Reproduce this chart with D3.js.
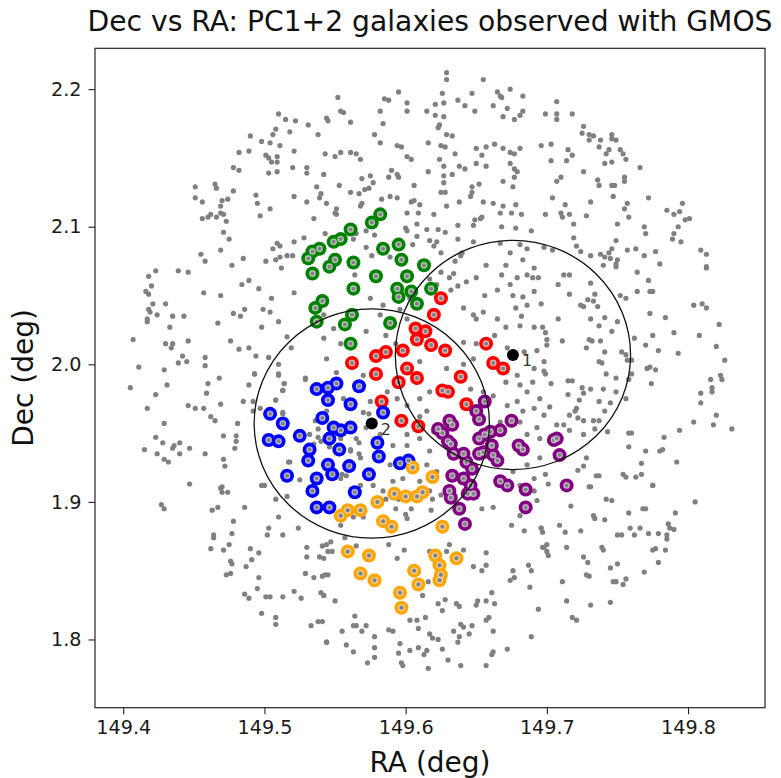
<!DOCTYPE html>
<html><head><meta charset="utf-8">
<script src="https://cdn.jsdelivr.net/npm/d3@7"></script>
<style>body{margin:0;background:#fff}svg{display:block}text{font-family:"DejaVu Sans",sans-serif}</style>
</head><body><svg id="c" width="781" height="778"></svg>
<script>
// ---------- data (RA, Dec in degrees) ----------
const galaxies = [
[149.510,2.182],[149.515,2.178],[149.522,2.177],[149.531,2.174],[149.490,2.166],[149.506,2.167],[149.508,2.171],[149.518,2.169],[149.538,2.167],[149.498,2.162],[149.504,2.161],[149.511,2.159],[149.482,2.154],[149.489,2.155],[149.521,2.155],[149.501,2.152],[149.503,2.150],[149.509,2.151],[149.505,2.147],[149.509,2.147],[149.478,2.143],[149.482,2.141],[149.520,2.143],[149.530,2.143],[149.530,2.139],[149.503,2.139],[149.509,2.140],[149.451,2.129],[149.465,2.131],[149.466,2.128],[149.537,2.129],[149.540,2.124],[149.539,2.121],[149.478,2.126],[149.451,2.121],[149.456,2.118],[149.470,2.119],[149.474,2.120],[149.494,2.123],[149.469,2.115],[149.495,2.117],[149.497,2.108],[149.504,2.113],[149.521,2.122],[149.530,2.118],[149.456,2.106],[149.460,2.107],[149.462,2.109],[149.466,2.107],[149.469,2.110],[149.471,2.109],[149.473,2.104],[149.535,2.106],[149.471,2.096],[149.475,2.091],[149.528,2.092],[149.521,2.089],[149.509,2.088],[149.506,2.084],[149.511,2.086],[149.508,2.076],[149.511,2.078],[149.516,2.079],[149.520,2.079],[149.455,2.080],[149.458,2.075],[149.469,2.083],[149.485,2.077],[149.501,2.075],[149.477,2.072],
[149.629,2.212],[149.629,2.207],[149.655,2.207],[149.595,2.198],[149.626,2.197],[149.647,2.197],[149.665,2.198],[149.667,2.195],[149.668,2.194],[149.674,2.200],[149.683,2.195],[149.552,2.194],[149.585,2.193],[149.588,2.192],[149.601,2.190],[149.601,2.184],[149.621,2.189],[149.627,2.190],[149.637,2.192],[149.642,2.188],[149.662,2.188],[149.672,2.186],[149.683,2.184],[149.681,2.181],[149.544,2.179],[149.545,2.177],[149.554,2.184],[149.556,2.183],[149.561,2.176],[149.582,2.184],[149.584,2.175],[149.615,2.184],[149.621,2.181],[149.627,2.180],[149.649,2.184],[149.669,2.180],[149.677,2.178],[149.624,2.174],[149.623,2.172],[149.629,2.167],[149.633,2.166],[149.578,2.167],[149.582,2.161],[149.616,2.161],[149.625,2.159],[149.628,2.158],[149.635,2.153],[149.650,2.157],[149.657,2.158],[149.654,2.152],[149.663,2.160],[149.669,2.157],[149.674,2.154],[149.677,2.153],[149.681,2.157],[149.594,2.159],[149.597,2.158],[149.543,2.153],[149.550,2.151],[149.554,2.154],[149.561,2.154],[149.565,2.153],[149.568,2.149],[149.601,2.151],[149.604,2.149],[149.624,2.149],[149.627,2.144],[149.638,2.144],[149.642,2.142],[149.650,2.146],[149.657,2.144],[149.674,2.146],[149.677,2.142],[149.679,2.140],[149.542,2.138],[149.569,2.135],[149.575,2.137],[149.588,2.136],[149.594,2.138],[149.595,2.136],[149.590,2.141],[149.616,2.140],[149.627,2.137],[149.633,2.138],[149.669,2.133],[149.677,2.136],[149.676,2.129],[149.553,2.130],[149.561,2.125],[149.567,2.124],[149.571,2.127],[149.574,2.128],[149.577,2.132],[149.606,2.130],[149.627,2.132],[149.625,2.125],[149.628,2.125],[149.647,2.129],[149.647,2.125],[149.646,2.122],[149.652,2.131],[149.583,2.120],[149.589,2.122],[149.594,2.121],[149.604,2.118],[149.606,2.119],[149.610,2.116],[149.544,2.117],[149.551,2.113],[149.550,2.110],[149.569,2.117],[149.568,2.115],[149.551,2.109],[149.601,2.110],[149.609,2.110],[149.620,2.109],[149.629,2.115],[149.638,2.118],[149.655,2.118],[149.662,2.117],[149.669,2.115],[149.667,2.110],[149.678,2.116],[149.682,2.109],[149.649,2.105],[149.653,2.106],[149.654,2.107],[149.648,2.101],[149.675,2.110],[149.543,2.095],[149.565,2.095],[149.563,2.091],[149.572,2.097],[149.578,2.094],[149.600,2.099],[149.601,2.097],[149.608,2.102],[149.615,2.098],[149.623,2.098],[149.628,2.096],[149.637,2.101],[149.637,2.091],[149.668,2.100],[149.678,2.099],[149.689,2.097],[149.648,2.089],[149.667,2.088],[149.674,2.081],[149.681,2.087],[149.686,2.084],[149.683,2.076],[149.572,2.085],[149.576,2.079],[149.589,2.078],[149.605,2.087],[149.608,2.093],[149.617,2.090],[149.622,2.089],[149.620,2.086],[149.639,2.079],[149.635,2.075],[149.640,2.081],[149.625,2.081],[149.657,2.072],[149.671,2.072],
[149.707,2.191],[149.707,2.182],[149.707,2.178],[149.699,2.182],[149.718,2.182],[149.726,2.173],[149.725,2.168],[149.730,2.167],[149.733,2.166],[149.730,2.163],[149.738,2.163],[149.746,2.167],[149.746,2.164],[149.749,2.163],[149.737,2.158],[149.744,2.156],[149.742,2.153],[149.752,2.156],[149.754,2.153],[149.756,2.149],[149.741,2.146],[149.746,2.147],[149.696,2.159],[149.703,2.160],[149.715,2.156],[149.718,2.152],[149.703,2.148],[149.714,2.148],[149.726,2.140],[149.766,2.143],[149.707,2.133],[149.710,2.136],[149.736,2.134],[149.737,2.130],[149.746,2.130],[149.748,2.130],[149.755,2.136],[149.755,2.133],[149.747,2.122],[149.772,2.121],[149.704,2.121],[149.713,2.116],[149.731,2.118],[149.699,2.109],[149.710,2.110],[149.711,2.107],[149.716,2.109],[149.728,2.108],[149.719,2.102],[149.757,2.117],[149.755,2.113],[149.758,2.107],[149.750,2.102],[149.785,2.112],[149.790,2.109],[149.794,2.111],[149.796,2.117],[149.798,2.105],[149.801,2.106],[149.793,2.100],[149.769,2.100],[149.770,2.095],[149.790,2.095],[149.789,2.091],[149.795,2.089],[149.719,2.092],[149.749,2.090],[149.721,2.086],[149.724,2.082],[149.698,2.085],[149.704,2.083],[149.731,2.079],[149.738,2.080],[149.741,2.078],[149.744,2.081],[149.746,2.084],[149.745,2.077],[149.750,2.076],[149.749,2.073],[149.757,2.083],[149.763,2.084],[149.777,2.082],[149.769,2.079],[149.780,2.073],[149.809,2.083],[149.813,2.080],[149.813,2.071],
[149.418,2.064],[149.423,2.068],[149.439,2.068],[149.446,2.067],[149.512,2.070],[149.420,2.057],[149.416,2.053],[149.418,2.051],[149.457,2.052],[149.469,2.050],[149.484,2.058],[149.489,2.061],[149.496,2.055],[149.505,2.048],[149.521,2.052],[149.421,2.044],[149.430,2.044],[149.418,2.040],[149.419,2.038],[149.424,2.036],[149.417,2.033],[149.417,2.031],[149.435,2.035],[149.443,2.035],[149.478,2.037],[149.483,2.035],[149.486,2.040],[149.499,2.040],[149.504,2.038],[149.510,2.031],[149.498,2.027],[149.433,2.027],[149.467,2.030],[149.516,2.020],[149.407,2.018],[149.430,2.015],[149.435,2.015],[149.434,2.012],[149.446,2.017],[149.476,2.017],[149.482,2.011],[149.489,2.012],[149.519,2.012],[149.411,1.998],[149.429,1.996],[149.439,2.001],[149.442,2.006],[149.445,2.002],[149.458,2.005],[149.458,1.999],[149.494,2.006],[149.503,2.005],[149.510,2.000],[149.493,1.993],[149.510,1.993],[149.405,1.983],[149.423,1.978],[149.431,1.985],[149.460,1.986],[149.468,1.990],[149.489,1.985],[149.514,1.986],[149.513,1.981],[149.529,1.989],[149.459,1.979],[149.417,1.968],[149.446,1.970],[149.451,1.968],[149.457,1.968],[149.462,1.962],[149.465,1.959],[149.469,1.971],[149.485,1.973],[149.492,1.973],[149.492,1.966],[149.497,1.968],[149.508,1.974],[149.513,1.965],[149.429,1.957],[149.423,1.947],[149.428,1.943],[149.436,1.941],[149.435,1.939],[149.440,1.943],[149.440,1.935],[149.447,1.939],[149.415,1.938],[149.424,1.935],[149.429,1.931],[149.432,1.929],[149.458,1.935],[149.471,1.948],[149.480,1.948],[149.480,1.944],[149.479,1.939],[149.471,1.931],[149.472,1.926],[149.481,1.957],[149.447,1.913],[149.470,1.911],[149.517,1.929],[149.538,1.947],
[149.510,1.992],[149.529,1.990],[149.514,1.986],[149.513,1.981],[149.508,1.974],[149.513,1.964],[149.574,1.964],[149.536,1.959],[149.532,1.949],[149.538,1.953],[149.540,1.944],[149.535,1.942],[149.518,1.929],[149.546,1.940],[149.561,1.938],[149.567,1.943],[149.567,1.935],[149.558,1.919],[149.555,1.920],[149.525,1.916],[149.498,1.912],[149.493,1.993],
[149.564,2.065],[149.625,2.067],[149.634,2.066],[149.631,2.063],[149.643,2.060],[149.650,2.063],[149.668,2.065],[149.679,2.063],[149.686,2.065],[149.691,2.070],[149.690,2.063],[149.694,2.063],[149.617,2.062],[149.622,2.058],[149.637,2.057],[149.632,2.054],[149.656,2.050],[149.665,2.054],[149.674,2.058],[149.676,2.050],[149.683,2.049],[149.691,2.053],[149.696,2.044],[149.686,2.043],[149.641,2.041],[149.603,2.048],[149.575,2.048],[149.584,2.043],[149.596,2.040],[149.648,2.036],[149.650,2.033],[149.655,2.038],[149.678,2.041],[149.682,2.035],[149.691,2.027],[149.681,2.028],[149.665,2.033],[149.671,2.027],[149.601,2.033],[149.582,2.036],[149.572,2.024],[149.542,2.036],[149.549,2.026],[149.542,2.019],[149.554,2.015],[149.586,2.021],[149.593,2.015],[149.663,2.021],[149.672,2.012],[149.684,2.009],[149.693,2.010],[149.650,2.015],[149.641,2.016],[149.544,2.004],[149.551,1.994],[149.570,1.992],[149.610,2.002],[149.629,1.997],[149.641,2.000],[149.648,2.004],[149.667,1.999],[149.679,1.992],[149.691,1.997],[149.698,2.002],[149.671,1.987],[149.681,1.985],[149.690,1.987],[149.655,1.980],[149.662,1.977],[149.672,1.970],[149.679,1.973],[149.686,1.980],[149.695,1.975],[149.691,1.968],[149.683,1.966],[149.646,1.982],[149.617,1.980],[149.610,1.975],[149.601,1.970],[149.594,1.975],[149.587,1.980],[149.575,1.973],[149.556,1.975],[149.570,1.965],[149.572,1.954],[149.565,1.946],[149.582,1.949],[149.554,1.946],[149.544,1.966],[149.594,1.958],[149.610,1.962],[149.615,1.966],[149.601,1.949],[149.610,1.946],[149.620,1.951],[149.667,1.958],[149.681,1.958],[149.693,1.954],[149.695,1.946],[149.686,1.949],[149.591,1.941],[149.589,1.927],[149.601,1.941],[149.617,1.937],[149.615,1.927],[149.622,1.922],[149.610,1.915],[149.598,1.917],[149.591,1.915],[149.577,1.912],[149.568,1.912],[149.554,1.917],[149.561,1.937],[149.568,1.932],[149.676,1.922],[149.686,1.927],[149.691,1.917],[149.681,1.912],[149.695,1.932],
[149.712,2.065],[149.716,2.065],[149.740,2.072],[149.749,2.071],[149.764,2.067],[149.772,2.061],[149.773,2.053],[149.775,2.053],[149.813,2.070],[149.708,2.058],[149.731,2.059],[149.716,2.051],[149.734,2.051],[149.729,2.047],[149.733,2.046],[149.724,2.043],[149.726,2.042],[149.736,2.042],[149.752,2.050],[149.756,2.048],[149.764,2.053],[149.804,2.043],[149.810,2.044],[149.813,2.041],[149.708,2.033],[149.731,2.033],[149.741,2.034],[149.737,2.028],[149.750,2.031],[149.773,2.037],[149.784,2.034],[149.822,2.029],[149.697,2.027],[149.699,2.023],[149.700,2.018],[149.700,2.014],[149.711,2.017],[149.730,2.018],[149.732,2.017],[149.738,2.017],[149.746,2.024],[149.762,2.019],[149.775,2.021],[149.790,2.023],[149.808,2.021],[149.770,2.014],[149.779,2.010],[149.793,2.008],[149.820,2.013],[149.826,2.003],[149.728,2.012],[149.741,2.009],[149.753,2.009],[149.756,2.007],[149.757,2.003],[149.760,2.003],[149.737,2.002],[149.739,2.001],[149.698,1.995],[149.699,1.993],[149.742,1.993],[149.749,1.990],[149.771,1.997],[149.773,1.998],[149.777,1.996],[149.760,1.993],[149.758,1.989],[149.816,1.989],[149.823,1.992],[149.824,1.989],[149.774,1.986],[149.715,1.988],[149.718,1.988],[149.703,1.986],[149.725,1.983],[149.726,1.979],[149.731,1.982],[149.740,1.982],[149.749,1.980],[149.756,1.975],[149.715,1.978],[149.723,1.974],[149.737,1.973],[149.745,1.972],[149.741,1.966],[149.720,1.966],[149.721,1.968],[149.702,1.969],[149.698,1.963],[149.716,1.963],[149.722,1.961],[149.726,1.959],[149.733,1.959],[149.737,1.959],[149.707,1.956],[149.712,1.956],[149.716,1.952],[149.726,1.949],[149.734,1.953],[149.743,1.951],[149.758,1.950],[149.760,1.950],[149.758,1.940],[149.770,1.937],[149.780,1.937],[149.782,1.938],[149.783,1.947],[149.794,1.952],[149.804,1.958],[149.809,1.979],[149.809,1.972],[149.817,1.983],[149.817,1.980],[149.820,1.963],[149.818,1.956],[149.831,1.953],[149.792,1.929],[149.767,1.928],[149.735,1.919],[149.737,1.919],[149.754,1.920],[149.756,1.918],[149.763,1.918],[149.767,1.920],[149.775,1.912],[149.731,1.911],[149.722,1.923],[149.726,1.926],[149.728,1.932],[149.699,1.920],[149.701,1.913],
[149.427,1.898],[149.429,1.895],[149.469,1.910],[149.470,1.907],[149.474,1.907],[149.463,1.894],[149.467,1.896],[149.486,1.896],[149.478,1.886],[149.464,1.876],[149.464,1.874],[149.477,1.877],[149.475,1.869],[149.462,1.866],[149.471,1.865],[149.490,1.866],[149.496,1.863],[149.503,1.881],[149.502,1.876],[149.510,1.889],[149.508,1.902],[149.516,1.904],[149.513,1.876],[149.524,1.881],[149.476,1.857],[149.477,1.855],[149.491,1.858],[149.487,1.853],[149.473,1.847],[149.476,1.848],[149.496,1.845],[149.495,1.837],[149.486,1.833],[149.489,1.830],[149.501,1.831],[149.504,1.831],[149.513,1.831],[149.521,1.835],[149.526,1.830],[149.530,1.867],[149.530,1.860],[149.539,1.860],[149.544,1.869],[149.545,1.864],[149.529,1.848],[149.535,1.845],[149.541,1.846],[149.545,1.847],[149.540,1.834],[149.542,1.832],[149.498,1.819],[149.508,1.816],[149.508,1.811],[149.533,1.810],[149.538,1.813],[149.544,1.798],[149.500,1.912],
[149.584,1.908],[149.586,1.902],[149.594,1.907],[149.595,1.902],[149.593,1.895],[149.600,1.891],[149.601,1.888],[149.604,1.895],[149.610,1.907],[149.617,1.908],[149.619,1.902],[149.618,1.894],[149.625,1.905],[149.554,1.883],[149.563,1.889],[149.570,1.889],[149.541,1.868],[149.547,1.871],[149.548,1.864],[149.557,1.874],[149.565,1.868],[149.588,1.869],[149.594,1.859],[149.599,1.865],[149.617,1.864],[149.629,1.864],[149.631,1.869],[149.641,1.865],[149.654,1.895],[149.662,1.896],[149.675,1.883],[149.684,1.879],[149.681,1.890],[149.691,1.908],[149.693,1.901],[149.696,1.881],[149.697,1.867],[149.657,1.863],[149.648,1.853],[149.657,1.854],[149.654,1.850],[149.676,1.850],[149.677,1.845],[149.674,1.843],[149.687,1.854],[149.689,1.850],[149.688,1.838],[149.694,1.822],[149.689,1.802],[149.672,1.793],[149.661,1.834],[149.663,1.826],[149.657,1.828],[149.650,1.825],[149.651,1.828],[149.636,1.826],[149.638,1.824],[149.628,1.829],[149.626,1.821],[149.623,1.826],[149.612,1.832],[149.616,1.842],[149.609,1.849],[149.605,1.848],[149.542,1.859],[149.543,1.847],[149.550,1.828],[149.542,1.832],[149.541,1.813],[149.544,1.798],[149.555,1.806],[149.558,1.796],[149.563,1.791],[149.563,1.810],[149.565,1.810],[149.569,1.806],[149.572,1.810],[149.564,1.817],[149.578,1.802],[149.578,1.794],[149.578,1.787],[149.573,1.783],[149.588,1.807],[149.591,1.806],[149.596,1.797],[149.595,1.790],[149.597,1.783],[149.598,1.781],[149.603,1.814],[149.603,1.792],[149.608,1.814],[149.609,1.808],[149.609,1.794],[149.613,1.789],[149.615,1.792],[149.616,1.779],[149.614,1.816],[149.619,1.801],[149.617,1.804],[149.623,1.800],[149.626,1.793],[149.630,1.785],[149.634,1.806],[149.638,1.802],[149.637,1.798],[149.639,1.811],[149.641,1.809],[149.645,1.804],[149.647,1.810],[149.657,1.814],[149.659,1.816],[149.662,1.806],[149.657,1.781],[149.662,1.791],[149.661,1.789],[149.639,1.781],
[149.730,1.911],[149.775,1.912],[149.717,1.897],[149.742,1.902],[149.746,1.901],[149.758,1.892],[149.768,1.895],[149.770,1.895],[149.791,1.892],[149.805,1.900],[149.733,1.890],[149.734,1.888],[149.741,1.887],[149.709,1.883],[149.713,1.878],[149.724,1.879],[149.696,1.881],[149.697,1.878],[149.759,1.881],[149.766,1.881],[149.750,1.876],[149.753,1.876],[149.762,1.876],[149.772,1.877],[149.779,1.877],[149.785,1.876],[149.786,1.884],[149.787,1.881],[149.790,1.880],[149.785,1.873],[149.698,1.867],[149.700,1.869],[149.700,1.864],[149.701,1.861],[149.714,1.867],[149.739,1.867],[149.740,1.865],[149.775,1.865],[149.777,1.866],[149.784,1.865],[149.726,1.860],[149.729,1.856],[149.745,1.852],[149.750,1.855],[149.779,1.856],[149.769,1.849],[149.728,1.847],[149.730,1.846],[149.747,1.842],[149.749,1.842],[149.756,1.844],[149.754,1.840],[149.711,1.842],[149.714,1.828],[149.731,1.825],[149.745,1.827],[149.718,1.816],[149.721,1.814]
];
const groupGreen = [[149.582,2.109],[149.576,2.103],[149.561,2.098],[149.554,2.091],[149.549,2.089],[149.534,2.082],[149.531,2.077],[149.539,2.084],[149.546,2.071],[149.550,2.076],[149.563,2.074],[149.584,2.084],[149.595,2.087],[149.597,2.076],[149.613,2.072],[149.579,2.064],[149.601,2.064],[149.604,2.053],[149.594,2.055],[149.595,2.049],[149.618,2.055],[149.608,2.044],[149.563,2.055],[149.541,2.046],[149.536,2.041],[149.537,2.031],[149.562,2.036],[149.557,2.029],[149.589,2.030],[149.561,2.015],[149.534,2.066]];
const groupRed = [[149.625,2.048],[149.620,2.036],[149.607,2.026],[149.614,2.024],[149.608,2.018],[149.618,2.014],[149.628,2.010],[149.586,2.009],[149.598,2.010],[149.579,2.006],[149.562,2.001],[149.579,1.993],[149.601,1.997],[149.608,1.990],[149.595,1.987],[149.639,1.991],[149.626,1.981],[149.630,1.980],[149.643,1.971],[149.583,1.973],[149.597,1.959],[149.609,1.955],[149.657,2.015],[149.662,2.001],[149.669,1.997]];
const groupBlue = [[149.504,1.964],[149.513,1.957],[149.503,1.945],[149.510,1.944],[149.525,1.948],[149.532,1.938],[149.531,1.930],[149.516,1.919],[149.537,1.917],[149.537,1.982],[149.545,1.983],[149.551,1.986],[149.567,1.984],[149.545,1.974],[149.561,1.971],[149.541,1.961],[149.549,1.954],[149.554,1.952],[149.561,1.954],[149.584,1.965],[149.580,1.943],[149.581,1.933],[149.553,1.938],[149.545,1.927],[149.548,1.920],[149.560,1.926],[149.574,1.920],[149.596,1.928],[149.602,1.930],[149.534,1.908],[149.537,1.896],[149.546,1.896],[149.564,1.907],[149.546,1.946]];
const groupOrange = [[149.580,1.900],[149.592,1.906],[149.600,1.904],[149.608,1.904],[149.612,1.907],[149.554,1.890],[149.559,1.894],[149.568,1.894],[149.584,1.886],[149.590,1.882],[149.626,1.882],[149.559,1.864],[149.574,1.861],[149.568,1.848],[149.578,1.843],[149.606,1.850],[149.609,1.840],[149.621,1.861],[149.624,1.854],[149.625,1.847],[149.624,1.843],[149.636,1.859],[149.596,1.834],[149.597,1.823],[149.605,1.925],[149.619,1.918]];
const groupPurple = [[149.650,1.966],[149.656,1.973],[149.652,1.960],[149.631,1.959],[149.633,1.956],[149.623,1.953],[149.626,1.950],[149.630,1.944],[149.632,1.942],[149.634,1.935],[149.641,1.935],[149.643,1.929],[149.647,1.924],[149.652,1.935],[149.655,1.936],[149.652,1.946],[149.656,1.949],[149.660,1.951],[149.661,1.941],[149.667,1.952],[149.675,1.959],[149.680,1.941],[149.683,1.938],[149.662,1.934],[149.665,1.930],[149.633,1.919],[149.641,1.917],[149.646,1.912],[149.667,1.915],[149.672,1.912],[149.705,1.945],[149.707,1.946],[149.709,1.934],[149.714,1.912],[149.631,1.908],[149.632,1.903],[149.638,1.895],[149.642,1.884],[149.644,1.906],[149.648,1.906],[149.685,1.909],[149.685,1.896]];
const groups = [
  {name:"green",  color:"green",   pts:groupGreen},
  {name:"red",    color:"red",     pts:groupRed},
  {name:"blue",   color:"blue",    pts:groupBlue},
  {name:"orange", color:"orange",  pts:groupOrange},
  {name:"purple", color:"purple",  pts:groupPurple}
];
const pointingRA  = [149.676, 149.576];
const pointingDec = [2.0068, 1.957];
const pointingLabel = ["1", "2"];
const fovRadius = 0.0833;
const xTicks = [149.4,149.5,149.6,149.7,149.8];
const yTicks = [1.8,1.9,2.0,2.1,2.2];
const titleText = "Dec vs RA: PC1+2 galaxies observed with GMOS";

// ---------- layout ----------
const svg = d3.select("#c");
const L=95, R=765, T=48.3, B=707.7;
const x = d3.scaleLinear().domain([149.3800,149.8545]).range([L,R]);
const y = d3.scaleLinear().domain([1.7504,2.2297]).range([B,T]);

const plot = svg.append("g");
plot.append("g").selectAll("circle").data(galaxies).join("circle")
  .attr("cx",d=>x(d[0])).attr("cy",d=>y(d[1])).attr("r",2.6).attr("fill","#808080");

groups.forEach(g=>{
  plot.append("g").selectAll("circle").data(g.pts).join("circle")
    .attr("cx",d=>x(d[0])).attr("cy",d=>y(d[1])).attr("r",7)
    .attr("fill",g.color);
});
groups.forEach(g=>{
  plot.append("g").selectAll("circle").data(g.pts).join("circle")
    .attr("cx",d=>x(d[0])).attr("cy",d=>y(d[1])).attr("r",2.7)
    .attr("fill","#808080").attr("stroke","#fff").attr("stroke-opacity",0.55).attr("stroke-width",1.4);
});

const idx = d3.range(pointingRA.length);
plot.append("g").selectAll("ellipse").data(idx).join("ellipse")
  .attr("cx",i=>x(pointingRA[i])).attr("cy",i=>y(pointingDec[i]))
  .attr("rx",i=>x(pointingRA[i]+fovRadius)-x(pointingRA[i]))
  .attr("ry",i=>y(pointingDec[i])-y(pointingDec[i]+fovRadius))
  .attr("fill","none").attr("stroke","#111").attr("stroke-width",1.3);
plot.append("g").selectAll("circle").data(idx).join("circle")
  .attr("cx",i=>x(pointingRA[i])).attr("cy",i=>y(pointingDec[i])).attr("r",6).attr("fill","#000");
plot.append("g").selectAll("text").data(idx).join("text")
  .attr("x",i=>x(pointingRA[i])+9).attr("y",i=>y(pointingDec[i])+11.5)
  .attr("font-size",16).attr("fill","#333").text(i=>pointingLabel[i]);

// axes
const xAxis = svg.append("g").attr("transform",`translate(0,${B})`)
  .call(d3.axisBottom(x).tickValues(xTicks).tickFormat(d3.format(".1f")).tickSize(6.5).tickPadding(6));
const yAxis = svg.append("g").attr("transform",`translate(${L},0)`)
  .call(d3.axisLeft(y).tickValues(yTicks).tickFormat(d3.format(".1f")).tickSize(6.5).tickPadding(7));
[xAxis,yAxis].forEach(a=>{
  a.select(".domain").remove();
  a.selectAll("line").attr("stroke","#222").attr("stroke-width",1.1);
  a.selectAll("text").attr("font-family","DejaVu Sans").attr("font-size",19.2).attr("fill","#1a1a1a");
});
svg.append("rect").attr("x",L).attr("y",T).attr("width",R-L).attr("height",B-T)
  .attr("fill","none").attr("stroke","#222").attr("stroke-width",1.2);

svg.append("text").attr("x",(L+R)/2).attr("y",31).attr("text-anchor","middle")
  .attr("font-size",28.2).attr("fill","#111").text(titleText);
svg.append("text").attr("x",(L+R)/2).attr("y",772).attr("text-anchor","middle")
  .attr("font-size",28).attr("fill","#111").text("RA (deg)");
svg.append("text").attr("transform",`translate(33,${(T+B)/2}) rotate(-90)`).attr("text-anchor","middle")
  .attr("font-size",28).attr("fill","#111").text("Dec (deg)");
</script></body></html>
